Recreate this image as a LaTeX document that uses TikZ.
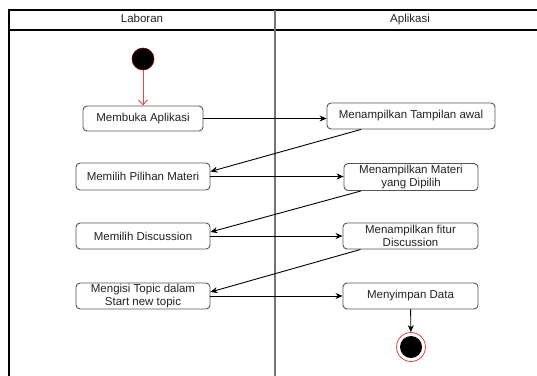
\documentclass[tikz,border=0pt]{standalone}
\usepackage{fontspec}
\setmainfont{Liberation Sans}
\usetikzlibrary{arrows.meta,calc}
\definecolor{boxline}{HTML}{555555}
\definecolor{txt}{HTML}{222222}
\definecolor{startred}{HTML}{E0474C}
\tikzset{
  act/.style={draw=boxline, line width=0.9pt, rounded corners=4pt, fill=white,
    text=txt, align=center, inner sep=1pt, font=\fontsize{11.5}{12.5}\selectfont},
  flow/.style={draw=black, line width=0.9pt, -{Stealth[length=7pt,width=6pt]}},
  redflow/.style={draw=startred, line width=0.9pt, -{Straight Barb[length=5pt,width=9pt]}},
  hdr/.style={text=txt, font=\fontsize{11.5}{12.5}\selectfont, text height=8.3pt, text depth=2.4pt, inner sep=0pt},
}
\begin{document}
\begin{tikzpicture}[x=1pt,y=-1pt]
\useasboundingbox (0,0) rectangle (537,375);
\clip (0,0) rectangle (537,375);
% frame
\draw[line width=1.4pt] (9,380) -- (9,10) -- (560,10);
\draw[line width=1.2pt] (9,30) -- (560,30);
\draw[line width=1.8pt, draw=black!55] (275,10) -- (275,380);
\node[hdr] (hl) at (142,20) {Laboran};
\node[hdr] (ha) at (410,20) {Aplikasi};
% start
\node[circle, fill=black, draw=red!50!black, line width=0.6pt, minimum size=22pt, inner sep=0pt] (start) at (143,59) {};
% activities
\node[act, minimum width=120pt, minimum height=25pt] (buka) at (143,118.5) {Membuka Aplikasi};
\node[act, minimum width=168pt, minimum height=26pt] (tampil) at (411,116) {Menampilkan Tampilan awal};
\node[act, minimum width=134pt, minimum height=27pt] (pilih) at (143,176.5) {Memilih Pilihan Materi};
\node[act, minimum width=134pt, minimum height=27pt] (materi) at (411,177) {Menampilkan Materi\\yang Dipilih};
\node[act, minimum width=134pt, minimum height=26pt] (disc) at (143,236) {Memilih Discussion};
\node[act, minimum width=135pt, minimum height=26pt] (fitur) at (410.5,236) {Menampilkan fitur\\Discussion};
\node[act, minimum width=134pt, minimum height=26pt] (isi) at (143,296) {Mengisi Topic dalam\\Start new topic};
\node[act, minimum width=135pt, minimum height=26pt] (simpan) at (410.5,296) {Menyimpan Data};
% end
\node[circle, draw=startred, line width=0.8pt, minimum size=29pt, inner sep=0pt] (endo) at (411,347) {};
\node[circle, fill=black, minimum size=22pt, inner sep=0pt] (endi) at (411,347) {};
% connectors
\draw[redflow] (start) -- (buka);
\draw[flow] (buka) -- (tampil.west |- buka);
\draw[flow] ([xshift=-50pt]tampil.south) -- ([yshift=5pt]pilih.east);
\draw[flow] (pilih) -- (materi.west |- pilih);
\draw[flow] ([xshift=-50pt]materi.south) -- ([yshift=4pt]disc.east);
\draw[flow] (disc) -- (fitur.west |- disc);
\draw[flow] ([xshift=-50pt]fitur.south) -- ([yshift=4pt]isi.east);
\draw[flow] (isi) -- (simpan.west |- isi);
\draw[flow] (simpan) -- (endo);
\end{tikzpicture}
\end{document}
